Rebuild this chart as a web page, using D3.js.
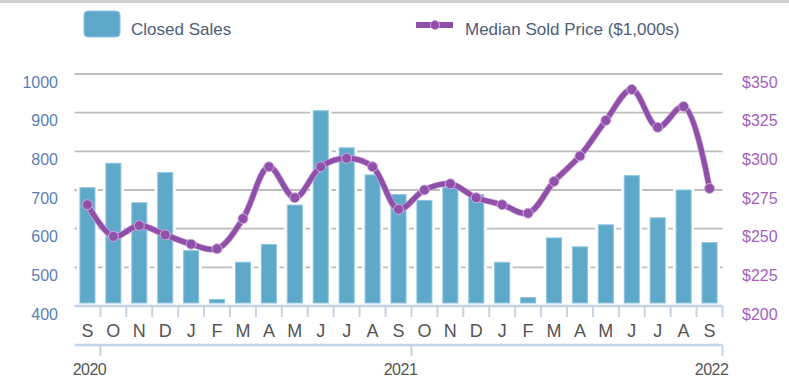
<!DOCTYPE html>
<html><head><meta charset="utf-8">
<script src="https://cdn.jsdelivr.net/npm/d3@7"></script>
<style>
html,body{margin:0;padding:0;background:#fff;}
text{font-family:"Liberation Sans",Arial,sans-serif;}
</style></head>
<body><svg id="c" width="789" height="389"></svg>
<script>
const months = ["S","O","N","D","J","F","M","A","M","J","J","A","S","O","N","D","J","F","M","A","M","J","J","A","S"];
const closedSales = [706,769,667,745,543,417,513,559,661,905,809,739,688,673,706,688,513,422,576,553,610,737,628,700,564];
const medianPrice = [265.5,245,252,246,240,237,256.5,290,270,290,295.5,290,262.5,275,279,270,265.5,260,280.5,297,320,340,315.5,329,276];
const leftTicks = [400,500,600,700,800,900,1000];
const rightTicks = [200,225,250,275,300,325,350];
const years = [{label:"2020", idx:0},{label:"2021", idx:12},{label:"2022", idx:24}];

const svg = d3.select("#c");
const W = 789;
const keys = months.map((m,i)=>i);
const x = d3.scaleBand().domain(keys).range([74.5, 722.5]).paddingInner(0.42).paddingOuter(0.21);
const xc = i => x(i) + x.bandwidth()/2;
const step = x.step();
const bandRight = i => xc(i) + step/2;
const yL = d3.scaleLinear().domain([400,1000]).range([306,74]);
const yR = d3.scaleLinear().domain([200,350]).range([306,74]);

// top rule
svg.append("line").attr("x1",0).attr("x2",W).attr("y1",1.5).attr("y2",1.5).attr("stroke","#cfcfcf").attr("stroke-width",3);

// legend
const lg = svg.append("g");
lg.append("rect").attr("x",84).attr("y",11).attr("width",36).attr("height",26).attr("rx",4).attr("fill","#5ea9c9").attr("stroke","#8cc5de").attr("stroke-width",1);
lg.append("text").attr("x",131).attr("y",34.5).attr("font-size",17).attr("fill","#4e5d78").text("Closed Sales");
lg.append("line").attr("x1",416).attr("x2",453).attr("y1",25).attr("y2",25).attr("stroke","#8f4fa8").attr("stroke-width",6);
lg.append("circle").attr("cx",435).attr("cy",25).attr("r",4.5).attr("fill","#8f4fa8").attr("stroke","#c9a3d9").attr("stroke-width",1);
lg.append("text").attr("x",465).attr("y",34.5).attr("font-size",17).attr("fill","#4e5d78").text("Median Sold Price ($1,000s)");

// gridlines
const x0 = x.range()[0], x1 = x.range()[1];
svg.append("g").selectAll("line").data(leftTicks.slice(1)).join("line")
  .attr("x1",x0).attr("x2",x1).attr("y1",d=>yL(d)).attr("y2",d=>yL(d))
  .attr("stroke","#bdbdbd").attr("stroke-width",1.8);

// left axis labels
svg.append("g").selectAll("text").data(leftTicks).join("text")
  .attr("x",58).attr("y",d=>yL(d)+13.5).attr("text-anchor","end").attr("font-size",16)
  .attr("fill","#5b80b6").text(d=>d);
// right axis labels
svg.append("g").selectAll("text").data(rightTicks).join("text")
  .attr("x",742).attr("y",d=>yR(d)+13.5).attr("text-anchor","start").attr("font-size",16)
  .attr("fill","#a35fbb").text(d=>"$"+d);

// bars with white halo
const bars = svg.append("g");
bars.selectAll("rect.halo").data(closedSales).join("rect").attr("class","halo")
  .attr("x",(d,i)=>x(i)-3).attr("width",x.bandwidth()+6)
  .attr("y",d=>yL(d)-3).attr("height",d=>yL(400)-yL(d)+3)
  .attr("fill","#fff");
bars.selectAll("rect.bar").data(closedSales).join("rect").attr("class","bar")
  .attr("x",(d,i)=>x(i)).attr("width",x.bandwidth())
  .attr("y",d=>yL(d)).attr("height",d=>Math.max(0,yL(400)-yL(d)-3))
  .attr("fill","#5ea9c9").attr("stroke","#8cc5de").attr("stroke-width",1);

// x axis
const ax = svg.append("g");
ax.append("line").attr("x1",x0).attr("x2",x1).attr("y1",yL(400)).attr("y2",yL(400)).attr("stroke","#c3d4e6").attr("stroke-width",2.5);
ax.selectAll("line.tk").data(keys).join("line").attr("class","tk")
  .attr("x1",i=>bandRight(i)).attr("x2",i=>bandRight(i)).attr("y1",yL(400)).attr("y2",yL(400)+11)
  .attr("stroke","#c3d4e6").attr("stroke-width",2);
ax.selectAll("text").data(months).join("text")
  .attr("x",(d,i)=>xc(i)).attr("y",337).attr("text-anchor","middle").attr("font-size",18)
  .attr("fill","#555").text(d=>d);

// year axis
const ya = svg.append("g");
ya.append("line").attr("x1",x0).attr("x2",x1).attr("y1",345).attr("y2",345).attr("stroke","#c3d4e6").attr("stroke-width",2.5);
ya.selectAll("line").filter(function(){return false;});
ya.selectAll("line.yt").data(years).join("line").attr("class","yt")
  .attr("x1",d=>bandRight(d.idx)).attr("x2",d=>bandRight(d.idx)).attr("y1",345).attr("y2",356)
  .attr("stroke","#c3d4e6").attr("stroke-width",2);
ya.selectAll("text").data(years).join("text")
  .attr("x",d=>xc(d.idx)+2).attr("y",375).attr("text-anchor","middle").attr("font-size",16)
  .attr("fill","#555").attr("letter-spacing",-0.5).text(d=>d.label);

// line
const line = d3.line().x((d,i)=>xc(i)).y(d=>yR(d)).curve(d3.curveCatmullRom.alpha(0.5));
svg.append("path").datum(medianPrice).attr("d",line).attr("fill","none")
  .attr("stroke","#c9a3d9").attr("stroke-width",6.5).attr("stroke-linejoin","round");
svg.append("path").datum(medianPrice).attr("d",line).attr("fill","none")
  .attr("stroke","#8f4fa8").attr("stroke-width",5).attr("stroke-linejoin","round");
svg.append("g").selectAll("circle").data(medianPrice).join("circle")
  .attr("cx",(d,i)=>xc(i)).attr("cy",d=>yR(d)).attr("r",5)
  .attr("fill","#9051aa").attr("stroke","#d0acdf").attr("stroke-width",1);
</script></body></html>
